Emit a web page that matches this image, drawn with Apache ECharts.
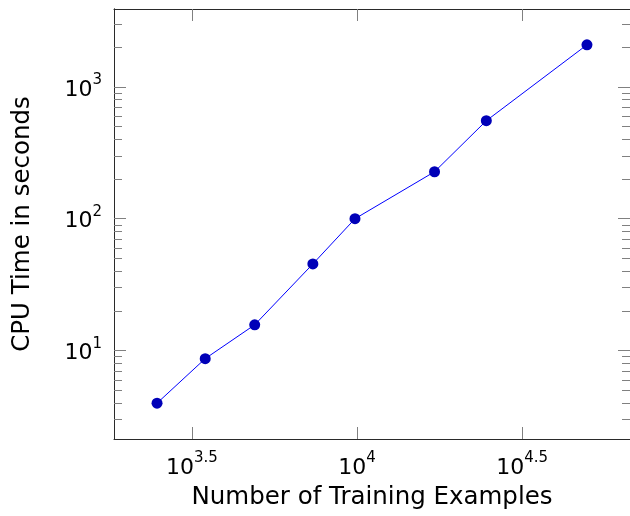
<!DOCTYPE html>
<html>
<head>
<meta charset="utf-8">
<script src="https://cdn.jsdelivr.net/npm/echarts@6/dist/echarts.min.js"></script>
<style>html,body{margin:0;padding:0;background:#fff}#c{width:630px;height:516px}</style>
</head>
<body>
<div id="c"></div>
<script>
// Data (log-log plot)
const trainingExamples = [2480, 3470, 4900, 7350, 9860, 17170, 24640, 49700];
const cpuSeconds = [4.0, 8.7, 15.7, 45.4, 100, 227, 553, 2080];

// Axis ranges and ticks
const xMin = Math.pow(10, 3.2641), xMax = Math.pow(10, 4.8267);
const yMin = Math.pow(10, 0.3304), yMax = Math.pow(10, 3.5896);
const xTickValues = [Math.pow(10, 3.5), Math.pow(10, 4), Math.pow(10, 4.5)];
const yMajorTicks = [10, 100, 1000];
const yMinorTicks = [3, 4, 5, 6, 7, 8, 9, 20, 30, 40, 50, 60, 70, 80, 90,
  200, 300, 400, 500, 600, 700, 800, 900, 2000, 3000];

const FONT = 'DejaVu Sans';
const frameColor = '#2a2a2a';
const tickColor = '#808080';

const richLabel = {
  b: {fontFamily: FONT, fontSize: 22, color: '#000', lineHeight: 28, verticalAlign: 'bottom'},
  s: {fontFamily: FONT, fontSize: 15, color: '#000', lineHeight: 28, verticalAlign: 'top'}
};
function expLabel(v) {
  const e = Math.round(Math.log10(v) * 10) / 10;
  return '{b|10}{s|' + e + '}';
}

function xAxisDef(pos, showLabel) {
  return {
    type: 'log', logBase: 10, min: xMin, max: xMax, position: pos,
    axisLine: {show: true, onZero: false, lineStyle: {color: frameColor, width: 1}},
    axisTick: {show: true, inside: true, length: 12, customValues: xTickValues,
      lineStyle: {color: tickColor, width: 1}},
    minorTick: {show: false},
    splitLine: {show: false},
    axisLabel: showLabel ? {show: true, customValues: xTickValues, margin: 12,
      formatter: expLabel, rich: richLabel} : {show: false},
    name: showLabel ? 'Number of Training Examples' : '',
    nameLocation: 'middle', nameGap: 46,
    nameTextStyle: {fontFamily: FONT, fontSize: 24.5, color: '#000'}
  };
}
function yAxisDef(pos, major, showLabel) {
  return {
    type: 'log', logBase: 10, min: yMin, max: yMax, position: pos,
    axisLine: {show: true, onZero: false, lineStyle: {color: frameColor, width: 1}},
    axisTick: {show: true, inside: true, length: major ? 12 : 8,
      customValues: major ? yMajorTicks : yMinorTicks,
      lineStyle: {color: tickColor, width: 1}},
    minorTick: {show: false},
    splitLine: {show: false},
    axisLabel: showLabel ? {show: true, customValues: yMajorTicks, margin: 12,
      formatter: expLabel, rich: richLabel} : {show: false},
    name: showLabel ? 'CPU Time in seconds' : '',
    nameLocation: 'middle', nameGap: 79,
    nameTextStyle: {fontFamily: FONT, fontSize: 24.5, color: '#000'}
  };
}

const chart = echarts.init(document.getElementById('c'), null, {renderer: 'canvas'});
chart.setOption({
  animation: false,
  backgroundColor: '#fff',
  grid: {left: 114, right: -3, top: 9, bottom: 77, containLabel: false},
  xAxis: [xAxisDef('bottom', true), xAxisDef('top', false)],
  yAxis: [yAxisDef('left', true, true), yAxisDef('left', false, false),
          yAxisDef('right', true, false), yAxisDef('right', false, false)],
  series: [{
    type: 'line', xAxisIndex: 0, yAxisIndex: 0,
    data: trainingExamples.map((x, i) => [x, cpuSeconds[i]]),
    symbol: 'circle', symbolSize: 11,
    itemStyle: {color: '#0000B8'},
    lineStyle: {color: '#0000FF', width: 1},
    z: 5
  }]
});
</script>
</body>
</html>
